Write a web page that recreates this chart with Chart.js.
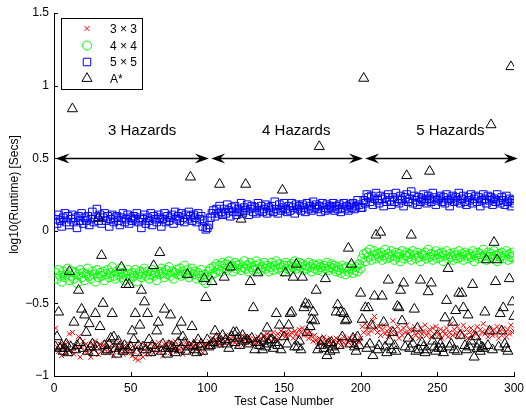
<!DOCTYPE html>
<html>
<head>
<meta charset="utf-8">
<script src="https://cdn.jsdelivr.net/npm/chart.js@4.4.1/dist/chart.umd.min.js"></script>
<style>
  html, body { margin: 0; padding: 0; background: #fff; }
  #wrap { width: 526px; height: 410px; }
</style>
</head>
<body>
<div id="wrap"><canvas id="runtimeChart" width="526" height="410"></canvas></div>
<script>
// log10(runtime) per test case
const grid3x3 = [
  -0.67,-0.80,-0.83,-0.78,-0.86,-0.81,-0.79,-0.84,-0.77,-0.71,
  -0.82,-0.70,-0.85,-0.79,-0.81,-0.73,-0.87,-0.80,-0.76,-0.83,
  -0.78,-0.84,-0.81,-0.87,-0.79,-0.82,-0.76,-0.80,-0.85,-0.78,
  -0.83,-0.79,-0.81,-0.77,-0.84,-0.80,-0.82,-0.78,-0.86,-0.79,
  -0.81,-0.77,-0.83,-0.80,-0.85,-0.79,-0.82,-0.84,-0.78,-0.81,
  -0.86,-0.83,-0.88,-0.80,-0.89,-0.84,-0.81,-0.87,-0.79,-0.83,
  -0.80,-0.85,-0.78,-0.82,-0.84,-0.79,-0.81,-0.77,-0.83,-0.80,
  -0.86,-0.78,-0.82,-0.80,-0.77,-0.84,-0.79,-0.81,-0.76,-0.83,
  -0.79,-0.82,-0.78,-0.85,-0.80,-0.77,-0.81,-0.79,-0.83,-0.78,
  -0.80,-0.76,-0.82,-0.79,-0.81,-0.77,-0.84,-0.78,-0.80,-0.79,
  -0.76,-0.79,-0.74,-0.77,-0.75,-0.78,-0.73,-0.76,-0.79,-0.74,
  -0.77,-0.72,-0.75,-0.78,-0.74,-0.76,-0.73,-0.77,-0.75,-0.79,
  -0.74,-0.76,-0.72,-0.78,-0.75,-0.73,-0.77,-0.74,-0.76,-0.78,
  -0.75,-0.77,-0.73,-0.76,-0.74,-0.78,-0.72,-0.75,-0.71,-0.74,
  -0.72,-0.76,-0.70,-0.73,-0.75,-0.71,-0.74,-0.69,-0.72,-0.70,
  -0.73,-0.71,-0.68,-0.72,-0.70,-0.74,-0.69,-0.71,-0.73,-0.68,
  -0.70,-0.67,-0.72,-0.69,-0.71,-0.74,-0.70,-0.73,-0.76,-0.72,
  -0.75,-0.77,-0.74,-0.78,-0.76,-0.73,-0.79,-0.75,-0.77,-0.74,
  -0.78,-0.76,-0.80,-0.74,-0.77,-0.75,-0.79,-0.76,-0.73,-0.78,
  -0.75,-0.77,-0.74,-0.79,-0.76,-0.73,-0.78,-0.75,-0.77,-0.74,
  -0.66,-0.70,-0.64,-0.68,-0.71,-0.65,-0.69,-0.62,-0.59,-0.67,
  -0.70,-0.66,-0.72,-0.68,-0.65,-0.71,-0.69,-0.73,-0.67,-0.70,
  -0.62,-0.68,-0.71,-0.66,-0.74,-0.69,-0.72,-0.67,-0.70,-0.65,
  -0.71,-0.68,-0.73,-0.69,-0.66,-0.72,-0.70,-0.74,-0.67,-0.71,
  -0.69,-0.65,-0.72,-0.70,-0.68,-0.73,-0.67,-0.71,-0.66,-0.70,
  -0.72,-0.68,-0.74,-0.69,-0.71,-0.67,-0.73,-0.70,-0.64,-0.72,
  -0.68,-0.71,-0.66,-0.73,-0.69,-0.70,-0.65,-0.72,-0.68,-0.74,
  -0.70,-0.67,-0.72,-0.69,-0.71,-0.66,-0.73,-0.68,-0.70,-0.64,
  -0.71,-0.69,-0.73,-0.67,-0.70,-0.72,-0.68,-0.71,-0.66,-0.74,
  -0.69,-0.72,-0.67,-0.70,-0.73,-0.68,-0.71,-0.65,-0.70,-0.69
];
const grid4x4 = [
  -0.29,-0.33,-0.27,-0.31,-0.35,-0.28,-0.32,-0.30,-0.26,-0.34,
  -0.31,-0.28,-0.33,-0.29,-0.36,-0.30,-0.27,-0.32,-0.29,-0.34,
  -0.30,-0.26,-0.31,-0.33,-0.28,-0.30,-0.35,-0.27,-0.32,-0.29,
  -0.31,-0.28,-0.34,-0.30,-0.27,-0.32,-0.29,-0.25,-0.31,-0.33,
  -0.28,-0.30,-0.26,-0.32,-0.29,-0.34,-0.31,-0.27,-0.30,-0.33,
  -0.29,-0.31,-0.27,-0.35,-0.30,-0.28,-0.32,-0.29,-0.26,-0.31,
  -0.28,-0.33,-0.30,-0.27,-0.31,-0.29,-0.34,-0.28,-0.30,-0.26,
  -0.29,-0.32,-0.27,-0.30,-0.25,-0.31,-0.28,-0.33,-0.29,-0.27,
  -0.30,-0.26,-0.31,-0.28,-0.24,-0.30,-0.27,-0.32,-0.29,-0.26,
  -0.30,-0.28,-0.33,-0.29,-0.31,-0.27,-0.34,-0.30,-0.36,-0.32,
  -0.28,-0.26,-0.30,-0.25,-0.29,-0.23,-0.27,-0.24,-0.28,-0.22,
  -0.26,-0.23,-0.27,-0.21,-0.25,-0.24,-0.28,-0.22,-0.26,-0.24,
  -0.23,-0.27,-0.25,-0.21,-0.26,-0.24,-0.28,-0.22,-0.25,-0.27,
  -0.24,-0.21,-0.26,-0.23,-0.27,-0.25,-0.22,-0.26,-0.24,-0.28,
  -0.25,-0.22,-0.27,-0.24,-0.21,-0.26,-0.23,-0.25,-0.28,-0.24,
  -0.22,-0.26,-0.24,-0.27,-0.23,-0.25,-0.21,-0.26,-0.24,-0.22,
  -0.25,-0.23,-0.27,-0.24,-0.26,-0.22,-0.25,-0.28,-0.23,-0.26,
  -0.24,-0.27,-0.23,-0.25,-0.28,-0.24,-0.26,-0.22,-0.27,-0.25,
  -0.23,-0.26,-0.24,-0.28,-0.25,-0.27,-0.29,-0.24,-0.26,-0.30,
  -0.25,-0.28,-0.26,-0.24,-0.29,-0.27,-0.25,-0.28,-0.23,-0.26,
  -0.19,-0.16,-0.21,-0.15,-0.18,-0.13,-0.20,-0.17,-0.14,-0.19,
  -0.16,-0.18,-0.15,-0.20,-0.17,-0.13,-0.19,-0.16,-0.18,-0.14,
  -0.17,-0.20,-0.15,-0.18,-0.16,-0.21,-0.14,-0.19,-0.17,-0.15,
  -0.18,-0.16,-0.20,-0.14,-0.17,-0.19,-0.15,-0.18,-0.21,-0.16,
  -0.17,-0.15,-0.19,-0.13,-0.18,-0.16,-0.20,-0.17,-0.14,-0.19,
  -0.16,-0.18,-0.15,-0.21,-0.17,-0.14,-0.19,-0.16,-0.18,-0.20,
  -0.15,-0.17,-0.19,-0.14,-0.18,-0.16,-0.20,-0.15,-0.17,-0.19,
  -0.16,-0.18,-0.14,-0.21,-0.17,-0.15,-0.19,-0.16,-0.18,-0.13,
  -0.17,-0.20,-0.15,-0.18,-0.16,-0.19,-0.14,-0.17,-0.21,-0.16,
  -0.18,-0.15,-0.19,-0.17,-0.14,-0.20,-0.16,-0.18,-0.15,-0.19
];
const grid5x5 = [
  0.08,0.05,0.11,0.07,0.03,0.09,0.12,0.06,0.10,0.04,
  0.08,0.11,0.06,0.09,0.02,0.10,0.07,0.12,0.05,0.09,
  0.07,0.10,0.04,0.08,0.13,0.06,0.09,0.15,0.07,0.11,
  0.05,0.09,0.12,0.07,0.10,0.03,0.08,0.11,0.06,0.09,
  0.10,0.07,0.04,0.09,0.12,0.06,0.08,0.11,0.05,0.09,
  0.07,0.10,0.08,0.12,0.06,0.09,0.02,0.08,0.11,0.05,
  0.09,0.07,0.12,0.04,0.10,0.08,0.06,0.11,0.09,0.03,
  0.08,0.12,0.06,0.10,0.07,0.09,0.11,0.05,0.13,0.08,
  0.10,0.07,0.12,0.09,0.06,0.11,0.08,0.13,0.10,0.07,
  0.11,0.09,0.06,0.12,0.08,0.10,0.03,0.07,0.01,0.02,
  0.04,0.09,0.12,0.14,0.10,0.15,0.12,0.17,0.13,0.11,
  0.15,0.12,0.18,0.14,0.10,0.16,0.13,0.17,0.11,0.15,
  0.13,0.19,0.12,0.16,0.14,0.18,0.11,0.15,0.17,0.13,
  0.16,0.12,0.19,0.14,0.17,0.13,0.15,0.18,0.12,0.16,
  0.14,0.17,0.13,0.20,0.15,0.12,0.18,0.14,0.16,0.19,
  0.15,0.13,0.17,0.14,0.19,0.16,0.12,0.18,0.15,0.17,
  0.14,0.18,0.16,0.13,0.19,0.15,0.17,0.14,0.20,0.16,
  0.18,0.15,0.17,0.13,0.19,0.16,0.14,0.18,0.15,0.17,
  0.16,0.19,0.14,0.17,0.15,0.18,0.13,0.16,0.19,0.15,
  0.17,0.14,0.18,0.16,0.19,0.15,0.17,0.21,0.18,0.16,
  0.16,0.21,0.19,0.25,0.23,0.20,0.24,0.18,0.22,0.26,
  0.21,0.19,0.24,0.22,0.17,0.23,0.20,0.25,0.21,0.18,
  0.23,0.20,0.26,0.22,0.19,0.24,0.21,0.17,0.23,0.25,
  0.20,0.22,0.27,0.19,0.24,0.21,0.18,0.23,0.20,0.22,
  0.25,0.21,0.19,0.24,0.22,0.20,0.26,0.23,0.18,0.21,
  0.22,0.24,0.20,0.23,0.19,0.25,0.21,0.17,0.22,0.24,
  0.20,0.23,0.21,0.26,0.19,0.22,0.24,0.20,0.18,0.23,
  0.21,0.25,0.19,0.22,0.24,0.20,0.23,0.17,0.21,0.25,
  0.22,0.19,0.24,0.21,0.23,0.18,0.22,0.20,0.25,0.21,
  0.19,0.23,0.21,0.18,0.24,0.20,0.22,0.17,0.21,0.19
];
const aStar = [
  -0.80,-0.73,-0.56,-0.81,-0.79,-0.83,-0.81,-0.78,-0.84,-0.28,
  -0.80,0.84,-0.63,-0.82,-0.79,-0.41,-0.77,-0.54,-0.81,-0.58,
  -0.70,-0.83,-0.64,-0.80,-0.78,-0.84,-0.57,-0.80,0.09,-0.66,
  -0.17,-0.50,-0.79,-0.83,-0.82,-0.78,-0.74,-0.57,-0.73,-0.81,
  -0.85,-0.76,-0.80,-0.25,-0.83,-0.79,-0.37,-0.82,-0.37,-0.80,
  -0.69,-0.75,-0.57,-0.84,-0.79,-0.65,-0.41,-0.80,-0.49,-0.82,
  -0.57,-0.75,-0.84,-0.79,-0.24,-0.81,-0.69,-0.63,-0.15,-0.83,
  -0.78,-0.54,-0.81,-0.85,-0.79,-0.58,-0.80,-0.81,-0.84,-0.69,
  -0.77,-0.82,-0.63,-0.73,-0.77,-0.83,-0.30,-0.80,0.37,-0.66,
  -0.79,-0.82,-0.84,-0.75,-0.80,-0.78,-0.83,-0.33,-0.46,-0.75,
  -0.80,-0.79,-0.35,-0.77,-0.69,-0.74,-0.78,0.32,-0.76,-0.72,
  -0.32,-0.75,-0.78,-0.81,-0.25,-0.73,-0.70,-0.77,-0.70,-0.74,
  -0.79,0.08,-0.72,-0.76,0.32,-0.75,-0.78,-0.35,-0.74,-0.53,
  -0.82,-0.77,-0.29,-0.79,-0.74,-0.82,-0.76,-0.80,-0.67,-0.78,
  -0.75,-0.75,-0.81,-0.77,-0.57,-0.79,-0.65,-0.82,0.28,-0.73,
  -0.29,-0.78,-0.65,-0.57,-0.56,-0.32,-0.80,-0.23,-0.80,-0.76,
  -0.82,-0.32,-0.53,-0.50,-0.70,-0.51,-0.66,-0.61,-0.56,-0.62,
  -0.41,-0.82,0.58,-0.79,-0.76,-0.81,-0.33,-0.86,-0.78,-0.83,
  -0.77,-0.80,-0.82,-0.56,-0.51,-0.79,-0.56,-0.73,-0.57,-0.62,
  -0.61,-0.12,-0.78,-0.23,-0.74,-0.80,-0.83,-0.73,-0.79,-0.43,
  -0.61,1.05,-0.53,-0.81,-0.53,-0.78,-0.65,-0.86,-0.45,-0.03,
  -0.82,-0.79,-0.01,-0.45,-0.63,-0.80,-0.84,-0.34,-0.76,-0.82,
  -0.70,-0.79,-0.83,-0.52,-0.53,-0.41,-0.62,-0.36,-0.80,0.38,
  -0.74,-0.81,-0.03,-0.78,-0.54,-0.83,-0.67,-0.82,-0.34,-0.77,
  -0.80,-0.84,-0.82,-0.42,0.41,-0.36,-0.76,-0.80,-0.83,-0.72,
  -0.81,-0.78,-0.81,-0.84,-0.60,-0.48,-0.26,-0.80,-0.78,-0.63,
  -0.82,-0.55,-0.83,-0.43,-0.72,-0.43,-0.53,-0.79,-0.82,-0.58,
  -0.80,-0.76,-0.37,-0.87,-0.73,-0.81,-0.78,-0.83,-0.80,-0.81,
  -0.56,-0.20,-0.79,-0.69,0.73,-0.82,-0.08,-0.35,-0.20,-0.80,
  -0.57,-0.69,-0.53,-0.78,-0.81,-0.83,-0.33,1.13,-0.49,-0.59
];

const xTicks = [0, 50, 100, 150, 200, 250, 300];
const yTicks = [-1, -0.5, 0, 0.5, 1, 1.5];

// hazard groups: label, arrow start, arrow end (test case numbers)
const hazardLabels = ['3 Hazards', '4 Hazards', '5 Hazards'];
const hazardStart = [1, 102.5, 203];
const hazardEnd = [101, 201.5, 302.5];
const hazardLabelX = [57.5, 158, 258.5];
const arrowLevel = 0.5;
const hazardLabelY = 0.66;

const FONT = '"Liberation Sans", Arial, Helvetica, sans-serif';

function toPoints(values) {
    return values.map((v, i) => ({ x: i + 1, y: v }));
}

function fmtTick(v) {
    return v < 0 ? '\u2212' + String(-v) : String(v);
}

function drawMarker(ctx, ds, x, y) {
    const r = ds.pointRadius;
    ctx.save();
    ctx.strokeStyle = ds.borderColor;
    ctx.lineWidth = ds.pointBorderWidth;
    ctx.beginPath();
    if (ds.pointStyle === 'crossRot') {
        const o = Math.cos(Math.PI / 4) * r;
        ctx.moveTo(x - o, y - o); ctx.lineTo(x + o, y + o);
        ctx.moveTo(x - o, y + o); ctx.lineTo(x + o, y - o);
    } else if (ds.pointStyle === 'circle') {
        ctx.arc(x, y, r, 0, Math.PI * 2);
    } else if (ds.pointStyle === 'rect') {
        const s = Math.SQRT1_2 * r;
        ctx.rect(x - s, y - s, 2 * s, 2 * s);
    } else {
        ctx.moveTo(x, y - r);
        ctx.lineTo(x + Math.sin(Math.PI * 2 / 3) * r, y + r / 2);
        ctx.lineTo(x - Math.sin(Math.PI * 2 / 3) * r, y + r / 2);
        ctx.closePath();
    }
    ctx.stroke();
    ctx.restore();
}

function arrowHead(ctx, tipX, y, dir) {
    // concave head like matlab's annotation arrows
    ctx.beginPath();
    ctx.moveTo(tipX, y);
    ctx.lineTo(tipX + dir * 14, y - 5);
    ctx.lineTo(tipX + dir * 9, y);
    ctx.lineTo(tipX + dir * 14, y + 5);
    ctx.closePath();
    ctx.fill();
}

const decorations = {
    id: 'decorations',
    afterDraw(chart) {
        const ctx = chart.ctx;
        const xs = chart.scales.x;
        const ys = chart.scales.y;
        const area = chart.chartArea;

        // inward tick marks
        ctx.save();
        ctx.strokeStyle = '#000';
        ctx.lineWidth = 1;
        ctx.beginPath();
        xTicks.forEach(v => {
            const px = Math.round(xs.getPixelForValue(v)) + 0.5;
            ctx.moveTo(px, area.bottom);
            ctx.lineTo(px, area.bottom - 4);
        });
        yTicks.forEach(v => {
            const py = Math.round(ys.getPixelForValue(v)) + 0.5;
            ctx.moveTo(area.left, py);
            ctx.lineTo(area.left + 4, py);
        });
        ctx.stroke();

        // hazard arrows
        const ay = Math.round(ys.getPixelForValue(arrowLevel)) + 0.5;
        ctx.fillStyle = '#000';
        ctx.lineWidth = 1.3;
        hazardStart.forEach((s, i) => {
            const x0 = xs.getPixelForValue(s);
            const x1 = xs.getPixelForValue(hazardEnd[i]);
            ctx.beginPath();
            ctx.moveTo(x0 + 6, ay);
            ctx.lineTo(x1 - 6, ay);
            ctx.stroke();
            arrowHead(ctx, x0, ay, 1);
            arrowHead(ctx, x1, ay, -1);
        });

        ctx.font = '15px ' + FONT;
        ctx.textAlign = 'center';
        ctx.textBaseline = 'alphabetic';
        hazardLabels.forEach((t, i) => {
            ctx.fillText(t, xs.getPixelForValue(hazardLabelX[i]), ys.getPixelForValue(hazardLabelY));
        });

        // legend box
        const box = { left: 61, top: 18, width: 81, height: 71 };
        ctx.fillStyle = '#fff';
        ctx.fillRect(box.left, box.top, box.width, box.height);
        ctx.strokeStyle = '#000';
        ctx.lineWidth = 1;
        ctx.strokeRect(box.left + 0.5, box.top + 0.5, box.width, box.height);
        const rowY = [28.5, 45.5, 62, 78.5];
        ctx.font = '12px ' + FONT;
        ctx.textAlign = 'left';
        ctx.textBaseline = 'middle';
        ctx.fillStyle = '#000';
        chart.data.datasets.forEach((ds, i) => {
            drawMarker(ctx, ds, 87, rowY[i]);
            ctx.fillText(ds.label, 110, rowY[i] + 1);
        });
        ctx.restore();
    }
};

const ctx = document.getElementById('runtimeChart').getContext('2d');
const runtimeChart = new Chart(ctx, {
    type: 'scatter',
    data: {
        datasets: [
            {
                label: '3 \u00d7 3',
                data: toPoints(grid3x3),
                pointStyle: 'crossRot',
                pointRadius: 3.6,
                pointBorderWidth: 1,
                borderColor: '#ff0000',
                backgroundColor: 'rgba(0,0,0,0)',
                order: 4
            },
            {
                label: '4 \u00d7 4',
                data: toPoints(grid4x4),
                pointStyle: 'circle',
                pointRadius: 4.5,
                pointBorderWidth: 1,
                borderColor: '#00ff00',
                backgroundColor: 'rgba(0,0,0,0)',
                order: 3
            },
            {
                label: '5 \u00d7 5',
                data: toPoints(grid5x5),
                pointStyle: 'rect',
                pointRadius: 5.3,
                pointBorderWidth: 1,
                borderColor: '#0000ff',
                backgroundColor: 'rgba(0,0,0,0)',
                order: 2
            },
            {
                label: 'A*',
                data: toPoints(aStar),
                pointStyle: 'triangle',
                pointRadius: 5.8,
                pointBorderWidth: 1,
                borderColor: '#000000',
                backgroundColor: 'rgba(0,0,0,0)',
                order: 1
            }
        ]
    },
    options: {
        responsive: false,
        animation: false,
        events: [],
        layout: {
            padding: { top: 13, right: 12, left: 0, bottom: 0 }
        },
        plugins: {
            legend: { display: false },
            tooltip: { enabled: false }
        },
        scales: {
            x: {
                type: 'linear',
                min: 0,
                max: 300,
                afterFit: scale => {
                    scale.height = 34;
                    scale.paddingLeft = 0;
                    scale.paddingRight = 0;
                },
                afterBuildTicks: scale => { scale.ticks = xTicks.map(v => ({ value: v })); },
                grid: { display: false, drawTicks: false },
                border: { display: true, color: '#000', width: 1 },
                ticks: {
                    padding: 5,
                    color: '#000',
                    font: { family: FONT, size: 12 },
                    maxRotation: 0,
                    callback: v => fmtTick(v)
                },
                title: {
                    display: true,
                    text: 'Test Case Number',
                    color: '#000',
                    font: { family: FONT, size: 12 },
                    padding: { top: 0, bottom: 1 }
                }
            },
            y: {
                min: -1,
                max: 1.5,
                afterFit: scale => {
                    scale.width = 54;
                    scale.paddingTop = 0;
                    scale.paddingBottom = 0;
                },
                afterBuildTicks: scale => { scale.ticks = yTicks.map(v => ({ value: v })); },
                grid: { display: false, drawTicks: false },
                border: { display: true, color: '#000', width: 1 },
                ticks: {
                    padding: 5,
                    color: '#000',
                    font: { family: FONT, size: 12 },
                    callback: v => fmtTick(v)
                },
                title: {
                    display: true,
                    text: 'log10(Runtime) [Secs]',
                    color: '#000',
                    font: { family: FONT, size: 12 },
                    padding: { top: 7, bottom: 0 }
                }
            }
        }
    },
    plugins: [decorations]
});
</script>
</body>
</html>
